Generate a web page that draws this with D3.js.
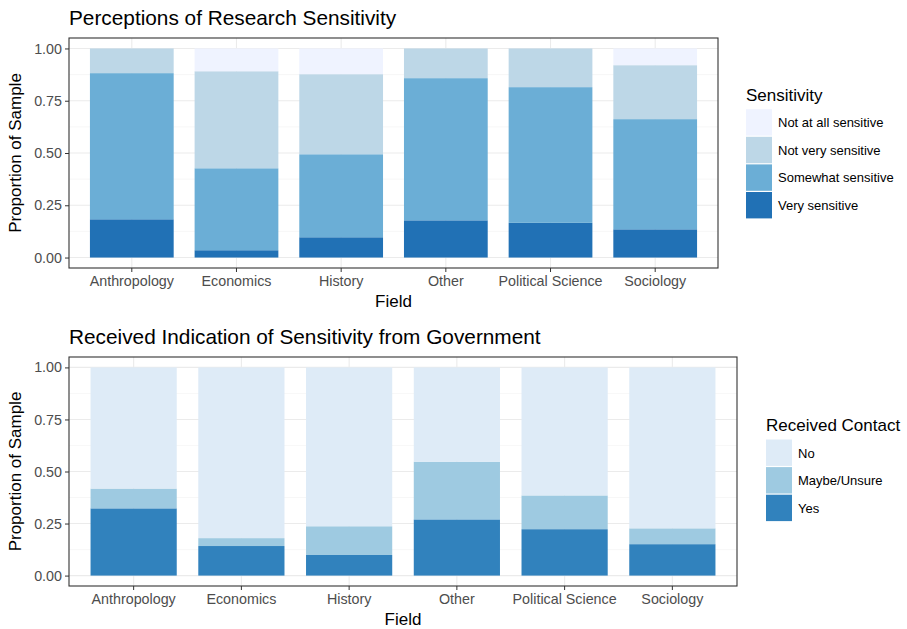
<!DOCTYPE html>
<html>
<head>
<meta charset="utf-8">
<script src="https://cdn.jsdelivr.net/npm/d3@7"></script>
<style>
  body { margin: 0; background: #fff; }
  svg text { font-family: "Liberation Sans", Arial, sans-serif; }
  .tick text { fill: #4d4d4d; font-size: 14.3px; }
  .tick line { stroke: #333; }
</style>
</head>
<body>
<svg id="chart" width="907" height="629"></svg>
<script>
const fields = ['Anthropology', 'Economics', 'History', 'Other', 'Political Science', 'Sociology']
const yTicks = [0, 0.25, 0.5, 0.75, 1]

// perceptions of sensitivity, share of each field
const sensKeys = ['Very sensitive', 'Somewhat sensitive', 'Not very sensitive', 'Not at all sensitive']
const verySensitive = [0.183, 0.035, 0.097, 0.178, 0.166, 0.135]
const somewhatSensitive = [0.699, 0.392, 0.397, 0.680, 0.649, 0.527]
const notVerySensitive = [0.118, 0.464, 0.383, 0.142, 0.185, 0.258]
const notAtAllSensitive = [0.000, 0.109, 0.123, 0.000, 0.000, 0.080]
const sensColors = ['#2171b5', '#6baed6', '#bdd7e7', '#eff3ff']

// received contact from government
const contactKeys = ['Yes', 'Maybe/Unsure', 'No']
const contactYes = [0.323, 0.142, 0.099, 0.270, 0.223, 0.151]
const contactMaybe = [0.095, 0.038, 0.138, 0.277, 0.162, 0.076]
const contactNo = [0.582, 0.820, 0.763, 0.453, 0.615, 0.773]
const contactColors = ['#3182bd', '#9ecae1', '#deebf7']

const svg = d3.select('#chart')

function drawPanel(opt) {
    const {left, top, right, bottom} = opt.box
    const g = svg.append('g')

    const rows = fields.map((f, i) => {
        const r = {field: f}
        opt.keys.forEach((k, j) => r[k] = opt.series[j][i])
        return r
    })
    const stacked = d3.stack().keys(opt.keys)(rows)

    const x = d3.scaleBand()
        .domain(fields)
        .range([left, right])
        .paddingInner(0.2)
        .paddingOuter(0.2)
    const y = d3.scaleLinear()
        .domain([-0.05, 1.05])
        .range([bottom, top])

    // grid
    const minor = d3.range(0.125, 1, 0.25)
    g.append('g').selectAll('line').data(minor).join('line')
        .attr('x1', left).attr('x2', right)
        .attr('y1', d => y(d)).attr('y2', d => y(d))
        .attr('stroke', '#f2f2f2').attr('stroke-width', 0.6)
    g.append('g').selectAll('line').data(yTicks).join('line')
        .attr('x1', left).attr('x2', right)
        .attr('y1', d => y(d)).attr('y2', d => y(d))
        .attr('stroke', '#ebebeb').attr('stroke-width', 1.1)
    g.append('g').selectAll('line').data(fields).join('line')
        .attr('x1', d => x(d) + x.bandwidth() / 2).attr('x2', d => x(d) + x.bandwidth() / 2)
        .attr('y1', top).attr('y2', bottom)
        .attr('stroke', '#ebebeb').attr('stroke-width', 1.1)

    // bars
    g.append('g').selectAll('g').data(stacked).join('g')
        .attr('fill', (d, i) => opt.colors[i])
        .selectAll('rect').data(d => d).join('rect')
        .attr('x', d => x(d.data.field))
        .attr('width', x.bandwidth())
        .attr('y', d => y(d[1]))
        .attr('height', d => y(d[0]) - y(d[1]))

    // border
    g.append('rect')
        .attr('x', left).attr('y', top)
        .attr('width', right - left).attr('height', bottom - top)
        .attr('fill', 'none').attr('stroke', '#333').attr('stroke-width', 1.1)

    // axes
    const xAxis = d3.axisBottom(x).tickSize(4).tickPadding(4)
    const xg = g.append('g').attr('transform', `translate(0,${bottom})`).call(xAxis)
    xg.select('.domain').remove()

    const yAxis = d3.axisLeft(y).tickValues(yTicks).tickFormat(d3.format('.2f')).tickSize(4).tickPadding(3)
    const yg = g.append('g').attr('transform', `translate(${left},0)`).call(yAxis)
    yg.select('.domain').remove()

    // titles
    g.append('text')
        .attr('x', left).attr('y', top - 13)
        .attr('font-size', 20.8).attr('fill', '#000')
        .text(opt.title)
    g.append('text')
        .attr('x', (left + right) / 2).attr('y', bottom + 39)
        .attr('text-anchor', 'middle').attr('font-size', 17)
        .text('Field')
    g.append('text')
        .attr('transform', `translate(21,${(top + bottom) / 2}) rotate(-90)`)
        .attr('text-anchor', 'middle').attr('font-size', 17)
        .text('Proportion of Sample')

    // legend, top-down in reverse stacking order
    const lg = svg.append('g').attr('transform', `translate(${opt.legend.x},${opt.legend.y})`)
    lg.append('text').attr('x', 0).attr('y', 0).attr('font-size', 17).text(opt.legendTitle)
    const items = opt.keys.map((k, i) => ({key: k, color: opt.colors[i]})).reverse()
    const key = lg.selectAll('g.key').data(items).join('g')
        .attr('class', 'key')
        .attr('transform', (d, i) => `translate(0,${8.5 + i * 27.6})`)
    key.append('rect')
        .attr('width', 26).attr('height', 26.4)
        .attr('fill', d => d.color)
    key.append('text')
        .attr('x', 32).attr('y', 18)
        .attr('font-size', 13).attr('fill', '#000')
        .text(d => d.key)
}

drawPanel({
    box: {left: 69, top: 38, right: 718, bottom: 268},
    keys: sensKeys,
    series: [verySensitive, somewhatSensitive, notVerySensitive, notAtAllSensitive],
    colors: sensColors,
    title: 'Perceptions of Research Sensitivity',
    legendTitle: 'Sensitivity',
    legend: {x: 746, y: 100.7}
})

drawPanel({
    box: {left: 69, top: 357, right: 737, bottom: 586},
    keys: contactKeys,
    series: [contactYes, contactMaybe, contactNo],
    colors: contactColors,
    title: 'Received Indication of Sensitivity from Government',
    legendTitle: 'Received Contact',
    legend: {x: 766, y: 431}
})
</script>
</body>
</html>
